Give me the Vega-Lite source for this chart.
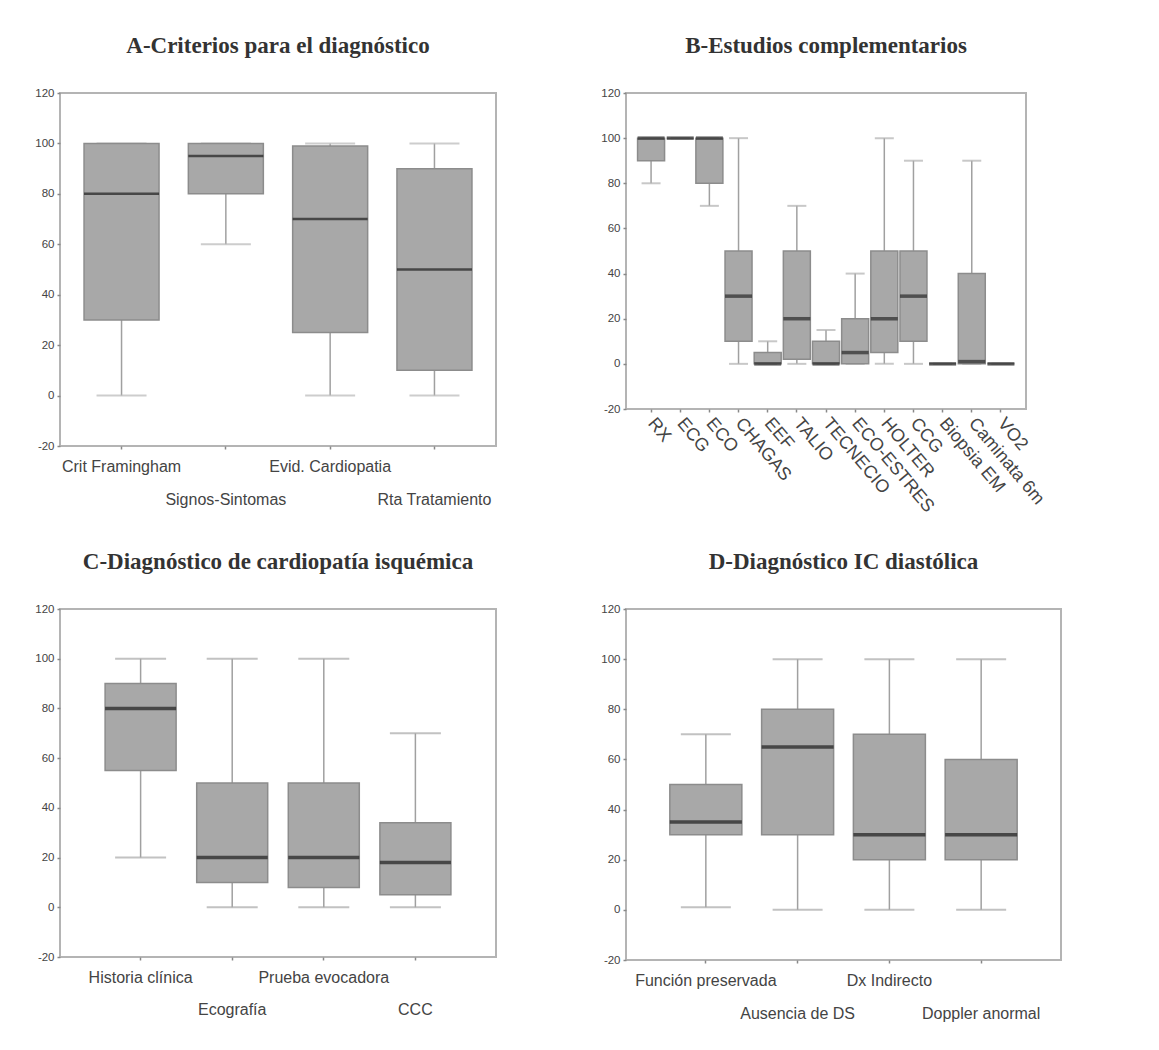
{
  "$schema": "https://vega.github.io/schema/vega-lite/v6.json",
  "background": "white",
  "padding": {"left": 33, "top": 34, "right": 5, "bottom": 5},
  "columns": 2,
  "spacing": {"column": 102, "row": 33},
  "datasets": {
    "a": [
      {"cat": "Crit Framingham", "lower": 0, "q1": 30, "median": 80, "q3": 100, "upper": 100},
      {"cat": "Signos-Sintomas", "lower": 60, "q1": 80, "median": 95, "q3": 100, "upper": 100},
      {"cat": "Evid. Cardiopatia", "lower": 0, "q1": 25, "median": 70, "q3": 99, "upper": 100},
      {"cat": "Rta Tratamiento", "lower": 0, "q1": 10, "median": 50, "q3": 90, "upper": 100}
    ],
    "b": [
      {"cat": "RX", "lower": 80, "q1": 90, "median": 100, "q3": 100, "upper": 100},
      {"cat": "ECG", "lower": 100, "q1": 100, "median": 100, "q3": 100, "upper": 100},
      {"cat": "ECO", "lower": 70, "q1": 80, "median": 100, "q3": 100, "upper": 100},
      {"cat": "CHAGAS", "lower": 0, "q1": 10, "median": 30, "q3": 50, "upper": 100},
      {"cat": "EEF", "lower": 0, "q1": 0, "median": 0, "q3": 5, "upper": 10},
      {"cat": "TALIO", "lower": 0, "q1": 2, "median": 20, "q3": 50, "upper": 70},
      {"cat": "TECNECIO", "lower": 0, "q1": 0, "median": 0, "q3": 10, "upper": 15},
      {"cat": "ECO-ESTRES", "lower": 0, "q1": 0, "median": 5, "q3": 20, "upper": 40},
      {"cat": "HOLTER", "lower": 0, "q1": 5, "median": 20, "q3": 50, "upper": 100},
      {"cat": "CCG", "lower": 0, "q1": 10, "median": 30, "q3": 50, "upper": 90},
      {"cat": "Biopsia EM", "lower": 0, "q1": 0, "median": 0, "q3": 0, "upper": 0},
      {"cat": "Caminata 6m", "lower": 0, "q1": 0, "median": 1, "q3": 40, "upper": 90},
      {"cat": "VO2", "lower": 0, "q1": 0, "median": 0, "q3": 0, "upper": 0}
    ],
    "c": [
      {"cat": "Historia clínica", "lower": 20, "q1": 55, "median": 80, "q3": 90, "upper": 100},
      {"cat": "Ecografía", "lower": 0, "q1": 10, "median": 20, "q3": 50, "upper": 100},
      {"cat": "Prueba evocadora", "lower": 0, "q1": 8, "median": 20, "q3": 50, "upper": 100},
      {"cat": "CCC", "lower": 0, "q1": 5, "median": 18, "q3": 34, "upper": 70}
    ],
    "d": [
      {"cat": "Función preservada", "lower": 1, "q1": 30, "median": 35, "q3": 50, "upper": 70},
      {"cat": "Ausencia de DS", "lower": 0, "q1": 30, "median": 65, "q3": 80, "upper": 100},
      {"cat": "Dx Indirecto", "lower": 0, "q1": 20, "median": 30, "q3": 70, "upper": 100},
      {"cat": "Doppler anormal", "lower": 0, "q1": 20, "median": 30, "q3": 60, "upper": 100}
    ]
  },
  "concat": [
    {
      "title": {"text": "A-Criterios para el diagnóstico"},
      "width": 436, "height": 353,
      "data": {"name": "a"},
      "encoding": {
        "x": {"field": "cat", "type": "nominal", "sort": null, "title": null,
              "scale": {"paddingInner": 0, "paddingOuter": 0.09},
              "axis": {"labelAngle": 0, "labelLineHeight": 33, "labelPadding": 9,
                       "labelExpr": "indexof(['Signos-Sintomas','Rta Tratamiento'], datum.value) >= 0 ? ['', datum.value] : datum.value"}}
      },
      "layer": [
        {"mark": {"type": "rule", "color": "#a0a0a0", "strokeWidth": 1.5},
         "encoding": {"y": {"field": "lower", "type": "quantitative", "scale": {"domain": [-20, 120], "nice": false}, "axis": {"values": [-20, 0, 20, 40, 60, 80, 100, 120], "title": null, "labelExpr": "replace(datum.label, '−', '-')"}}, "y2": {"field": "upper"}}},
        {"mark": {"type": "tick", "color": "#b8b8b8", "size": 50, "thickness": 2},
         "encoding": {"y": {"field": "lower", "type": "quantitative"}}},
        {"mark": {"type": "tick", "color": "#b8b8b8", "size": 50, "thickness": 2},
         "encoding": {"y": {"field": "upper", "type": "quantitative"}}},
        {"mark": {"type": "bar", "size": 75, "fill": "#a8a8a8", "stroke": "#8c8c8c", "strokeWidth": 1.5},
         "encoding": {"y": {"field": "q1", "type": "quantitative"}, "y2": {"field": "q3"}}},
        {"mark": {"type": "tick", "color": "#1e1e1e", "size": 75, "thickness": 2.5},
         "encoding": {"y": {"field": "median", "type": "quantitative"}}}
      ]
    },
    {
      "title": {"text": "B-Estudios complementarios"},
      "width": 400, "height": 316,
      "data": {"name": "b"},
      "encoding": {
        "x": {"field": "cat", "type": "nominal", "sort": null, "title": null,
              "scale": {"paddingInner": 0, "paddingOuter": 0.36},
              "axis": {"labelAngle": 50, "labelAlign": "left", "labelBaseline": "middle", "labelPadding": 8, "labelFontSize": 18}}
      },
      "layer": [
        {"mark": {"type": "rule", "color": "#a0a0a0", "strokeWidth": 1.5},
         "encoding": {"y": {"field": "lower", "type": "quantitative", "scale": {"domain": [-20, 120], "nice": false}, "axis": {"values": [-20, 0, 20, 40, 60, 80, 100, 120], "title": null, "labelExpr": "replace(datum.label, '−', '-')"}}, "y2": {"field": "upper"}}},
        {"mark": {"type": "tick", "color": "#b0b0b0", "size": 19, "thickness": 2},
         "encoding": {"y": {"field": "lower", "type": "quantitative"}}},
        {"mark": {"type": "tick", "color": "#b0b0b0", "size": 19, "thickness": 2},
         "encoding": {"y": {"field": "upper", "type": "quantitative"}}},
        {"mark": {"type": "bar", "size": 27, "fill": "#a8a8a8", "stroke": "#8c8c8c", "strokeWidth": 1.5},
         "encoding": {"y": {"field": "q1", "type": "quantitative"}, "y2": {"field": "q3"}}},
        {"mark": {"type": "tick", "color": "#2a2a2a", "size": 27, "thickness": 3.5},
         "encoding": {"y": {"field": "median", "type": "quantitative"}}}
      ]
    },
    {
      "title": {"text": "C-Diagnóstico de cardiopatía isquémica"},
      "width": 436, "height": 348,
      "data": {"name": "c"},
      "encoding": {
        "x": {"field": "cat", "type": "nominal", "sort": null, "title": null,
              "scale": {"paddingInner": 0, "paddingOuter": 0.38},
              "axis": {"labelAngle": 0, "labelLineHeight": 32, "labelPadding": 9,
                       "labelExpr": "indexof(['Ecografía','CCC'], datum.value) >= 0 ? ['', datum.value] : datum.value"}}
      },
      "layer": [
        {"mark": {"type": "rule", "color": "#a0a0a0", "strokeWidth": 1.5},
         "encoding": {"y": {"field": "lower", "type": "quantitative", "scale": {"domain": [-20, 120], "nice": false}, "axis": {"values": [-20, 0, 20, 40, 60, 80, 100, 120], "title": null, "labelExpr": "replace(datum.label, '−', '-')"}}, "y2": {"field": "upper"}}},
        {"mark": {"type": "tick", "color": "#a8a8a8", "size": 51, "thickness": 2},
         "encoding": {"y": {"field": "lower", "type": "quantitative"}}},
        {"mark": {"type": "tick", "color": "#a8a8a8", "size": 51, "thickness": 2},
         "encoding": {"y": {"field": "upper", "type": "quantitative"}}},
        {"mark": {"type": "bar", "size": 71, "fill": "#a8a8a8", "stroke": "#8c8c8c", "strokeWidth": 1.5},
         "encoding": {"y": {"field": "q1", "type": "quantitative"}, "y2": {"field": "q3"}}},
        {"mark": {"type": "tick", "color": "#1e1e1e", "size": 71, "thickness": 3.5},
         "encoding": {"y": {"field": "median", "type": "quantitative"}}}
      ]
    },
    {
      "title": {"text": "D-Diagnóstico IC diastólica"},
      "width": 435, "height": 351,
      "data": {"name": "d"},
      "encoding": {
        "x": {"field": "cat", "type": "nominal", "sort": null, "title": null,
              "scale": {"paddingInner": 0, "paddingOuter": 0.37},
              "axis": {"labelAngle": 0, "labelLineHeight": 33, "labelPadding": 9,
                       "labelExpr": "indexof(['Ausencia de DS','Doppler anormal'], datum.value) >= 0 ? ['', datum.value] : datum.value"}}
      },
      "layer": [
        {"mark": {"type": "rule", "color": "#a0a0a0", "strokeWidth": 1.5},
         "encoding": {"y": {"field": "lower", "type": "quantitative", "scale": {"domain": [-20, 120], "nice": false}, "axis": {"values": [-20, 0, 20, 40, 60, 80, 100, 120], "title": null, "labelExpr": "replace(datum.label, '−', '-')"}}, "y2": {"field": "upper"}}},
        {"mark": {"type": "tick", "color": "#a8a8a8", "size": 50, "thickness": 2},
         "encoding": {"y": {"field": "lower", "type": "quantitative"}}},
        {"mark": {"type": "tick", "color": "#a8a8a8", "size": 50, "thickness": 2},
         "encoding": {"y": {"field": "upper", "type": "quantitative"}}},
        {"mark": {"type": "bar", "size": 72, "fill": "#a8a8a8", "stroke": "#8c8c8c", "strokeWidth": 1.5},
         "encoding": {"y": {"field": "q1", "type": "quantitative"}, "y2": {"field": "q3"}}},
        {"mark": {"type": "tick", "color": "#1e1e1e", "size": 72, "thickness": 3.5},
         "encoding": {"y": {"field": "median", "type": "quantitative"}}}
      ]
    }
  ],
  "config": {
    "view": {"stroke": "#b4b4b4", "strokeWidth": 2},
    "title": {"font": "Liberation Serif", "fontSize": 23, "fontWeight": "bold", "color": "#333333", "anchor": "middle", "frame": "group", "offset": 29},
    "axis": {"domain": false, "grid": false, "labelFont": "Liberation Sans", "labelColor": "#444444", "tickColor": "#888888", "tickSize": 3, "tickWidth": 1.5},
    "axisX": {"labelFontSize": 16},
    "axisY": {"labelFontSize": 11.5, "labelPadding": 3}
  }
}
